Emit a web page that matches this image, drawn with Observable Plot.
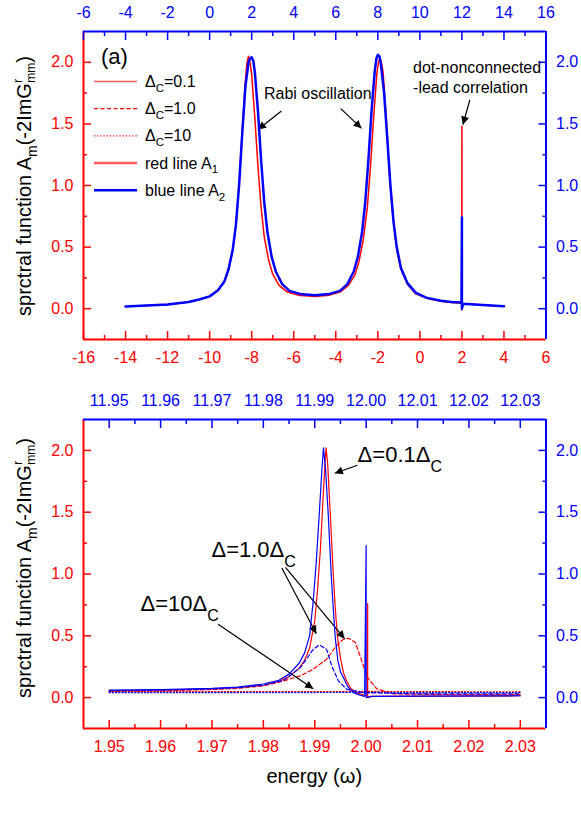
<!DOCTYPE html>
<html><head><meta charset="utf-8">
<script src="https://cdn.jsdelivr.net/npm/d3@7"></script>
<script src="https://cdn.jsdelivr.net/npm/@observablehq/plot@0.6"></script>
<style>
body{margin:0;background:#fff;}
#wrap{position:relative;width:581px;height:827px;overflow:hidden;background:#fff;}
#wrap svg{position:absolute;left:0;overflow:visible;}
</style></head><body><div id="wrap"></div><script>
// ---------------- DATA ----------------
// Panel (a): red A1 on bottom axis (ω), blue A2 on top axis
const panelA_red = [[-14,0.018],[-13,0.025],[-12,0.035],[-11,0.055],[-10.5,0.075],[-10,0.10],[-9.6,0.15],[-9.3,0.22],[-9.1,0.32],[-8.9,0.48],[-8.75,0.68],[-8.6,1.0],[-8.45,1.45],[-8.3,1.85],[-8.22,2.0],[-8.15,2.05],[-8.08,2.0],[-8.0,1.9],[-7.85,1.55],[-7.7,1.15],[-7.55,0.82],[-7.4,0.58],[-7.2,0.40],[-7.0,0.28],[-6.7,0.19],[-6.3,0.135],[-5.8,0.11],[-5.0,0.10],[-4.3,0.11],[-3.8,0.135],[-3.4,0.19],[-3.1,0.27],[-2.9,0.38],[-2.7,0.55],[-2.5,0.82],[-2.35,1.15],[-2.2,1.55],[-2.05,1.9],[-1.97,2.0],[-1.9,2.04],[-1.83,2.0],[-1.75,1.92],[-1.6,1.55],[-1.45,1.1],[-1.3,0.78],[-1.1,0.48],[-0.9,0.32],[-0.6,0.2],[-0.2,0.12],[0.4,0.08],[1.0,0.06],[1.5,0.05],[1.99,0.045],[2.0,1.48],[2.0,-0.01],[2.05,0.04],[3,0.03],[4,0.02]];
const panelA_blue = [[-4,0.018],[-3,0.025],[-2,0.035],[-1,0.055],[-0.5,0.075],[0,0.10],[0.4,0.15],[0.7,0.22],[0.9,0.32],[1.1,0.48],[1.25,0.68],[1.4,1.0],[1.55,1.42],[1.7,1.8],[1.85,2.0],[1.92,2.03],[2.0,2.04],[2.08,2.01],[2.15,1.92],[2.3,1.6],[2.45,1.2],[2.6,0.86],[2.75,0.62],[2.95,0.42],[3.15,0.30],[3.45,0.20],[3.8,0.145],[4.3,0.12],[5.0,0.11],[5.7,0.12],[6.2,0.145],[6.55,0.20],[6.85,0.30],[7.05,0.42],[7.25,0.62],[7.4,0.86],[7.55,1.2],[7.7,1.6],[7.85,1.92],[7.93,2.03],[8.0,2.06],[8.08,2.05],[8.15,1.98],[8.3,1.75],[8.45,1.38],[8.6,1.0],[8.75,0.70],[8.9,0.50],[9.1,0.33],[9.4,0.21],[9.8,0.13],[10.3,0.09],[11,0.065],[11.5,0.055],[11.98,0.05],[12.0,0.74],[12.0,0.0],[12.05,0.04],[13,0.03],[14,0.02]];

// Panel (b): red on bottom axis (ω), blue on top axis
const panelB_red_01 = [[1.950,0.055],[1.960,0.06],[1.970,0.07],[1.975,0.08],[1.980,0.10],[1.983,0.13],[1.985,0.17],[1.987,0.24],[1.988,0.30],[1.989,0.40],[1.990,0.62],[1.9905,0.85],[1.9911,1.2],[1.9916,1.6],[1.9920,1.9],[1.9922,2.02],[1.9925,1.9],[1.9930,1.5],[1.9936,1.0],[1.9940,0.72],[1.9944,0.50],[1.9950,0.32],[1.9956,0.20],[1.9962,0.135],[1.9970,0.075],[1.998,0.04],[2.0002,0.015],[2.0003,0.76],[2.0003,0.0],[2.001,0.01],[2.03,0.015]];
const panelB_red_10 = [[1.95,0.05],[1.96,0.055],[1.97,0.065],[1.975,0.075],[1.98,0.095],[1.9833,0.127],[1.9872,0.176],[1.9897,0.23],[1.9923,0.31],[1.9942,0.42],[1.9955,0.47],[1.9966,0.48],[1.9979,0.445],[1.9988,0.34],[1.9996,0.24],[2.0003,0.16],[2.0021,0.07],[2.0053,0.03],[2.015,0.025],[2.03,0.025]];
const panelB_red_100 = [[1.95,0.048],[1.97,0.048],[1.99,0.049],[2.0,0.05],[2.01,0.048],[2.03,0.047]];
const panelB_blue_01 = [[11.950,0.06],[11.960,0.065],[11.970,0.075],[11.975,0.085],[11.980,0.11],[11.983,0.14],[11.985,0.19],[11.987,0.28],[11.988,0.36],[11.989,0.50],[11.9897,0.78],[11.9903,1.1],[11.9909,1.5],[11.9914,1.85],[11.9917,2.02],[11.9921,1.85],[11.9926,1.5],[11.9932,1.0],[11.9936,0.72],[11.9940,0.48],[11.9945,0.30],[11.9950,0.21],[11.9956,0.16],[11.9964,0.09],[11.9975,0.04],[11.9988,0.02],[11.9997,0.01],[12.0,1.23],[12.0,0.0],[12.001,0.01],[12.01,0.012],[12.03,0.015]];
const panelB_blue_10 = [[11.95,0.055],[11.96,0.06],[11.97,0.07],[11.975,0.08],[11.98,0.10],[11.984,0.14],[11.9872,0.243],[11.9897,0.39],[11.9909,0.427],[11.9923,0.39],[11.9933,0.257],[11.9946,0.135],[11.9962,0.068],[11.9995,0.04],[12.01,0.03],[12.03,0.03]];
const panelB_blue_100 = [[11.95,0.04],[11.97,0.04],[11.99,0.041],[12.0,0.042],[12.01,0.04],[12.03,0.04]];

// Ticks
const aBottomTicks = [-16,-14,-12,-10,-8,-6,-4,-2,0,2,4,6];
const aTopTicks = [-6,-4,-2,0,2,4,6,8,10,12,14,16];
const bBottomTicks = [1.95,1.96,1.97,1.98,1.99,2.00,2.01,2.02,2.03];
const bTopTicks = [11.95,11.96,11.97,11.98,11.99,12.00,12.01,12.02,12.03];
const yTicks = [0,0.5,1.0,1.5,2.0];

// Annotations (data coordinates of the red/bottom-left scales)
const arrowsA = [{x1:-6.56,y1:1.60,x2:-7.68,y2:1.45},{x1:-3.74,y1:1.62,x2:-2.75,y2:1.46},{x1:2.40,y1:1.69,x2:2.07,y2:1.49}];
const arrowsB = [{x1:1.9984,y1:1.876,x2:1.9940,y2:1.811},{x1:1.9837,y1:1.045,x2:1.9904,y2:0.513},{x1:1.9844,y1:1.050,x2:1.9959,y2:0.473},{x1:1.9713,y1:0.589,x2:1.9898,y2:0.068}];

// ---------------- DRAW ----------------
const FONT = "Arial, 'Liberation Sans', Helvetica, sans-serif";
const RED = "#ff0000", BLUE = "#0000ff";
const wrap = d3.select("#wrap");
const minorOf = (ticks, n) => { const s = (ticks[1]-ticks[0])/n; const out=[]; for (let i=0;i<ticks.length-1;i++) for (let k=1;k<n;k++) out.push(+(ticks[i]+k*s).toFixed(6)); return out; };
const yMinor = [0.25,0.75,1.25,1.75];

function makePlot({height, mt, mb, xDomain, xTicks, xFmt, xAnchor, yAnchor, color, xPad, lines}) {
  const yEdge = xAnchor === "bottom" ? -0.25 : 2.25;
  const xEdge = yAnchor === "left" ? xDomain[0] : xDomain[1];
  return Plot.plot({
    width: 581, height, marginLeft: 83, marginRight: 35.5, marginTop: mt, marginBottom: mb,
    x: {domain: xDomain, axis: null}, y: {domain: [-0.25, 2.25], axis: null},
    style: {background: "transparent", color, fontFamily: FONT, fontSize: "16px", overflow: "visible"},
    marks: [
      ...lines,
      Plot.ruleX([xEdge], {stroke: color, strokeWidth: 2}),
      Plot.ruleY([yEdge], {stroke: color, strokeWidth: 2}),
      Plot.axisX(xTicks, {anchor: xAnchor, tickSize: -8, tickFormat: () => "", strokeWidth: 1.5, label: null}),
      Plot.axisX(minorOf(xTicks, 2), {anchor: xAnchor, tickSize: -4, tickFormat: () => "", strokeWidth: 1.5, label: null}),
      Plot.axisX(xTicks, {anchor: xAnchor, tickSize: 0, tickPadding: xPad, tickFormat: xFmt, fontSize: 16, label: null}),
      Plot.axisY(yTicks, {anchor: yAnchor, tickSize: -8, tickFormat: () => "", strokeWidth: 1.5, label: null}),
      Plot.axisY(yMinor, {anchor: yAnchor, tickSize: -4, tickFormat: () => "", strokeWidth: 1.5, label: null}),
      Plot.axisY(yTicks, {anchor: yAnchor, tickSize: 0, tickPadding: 10, tickFormat: d3.format(".1f"), fontSize: 16, label: null})
    ]
  });
}
const L = (data, o) => Plot.line(data, {x: d => d[0], y: d => d[1], ...o});

function rich(text, parts, size) {
  let cur = 0;
  for (const p of parts) {
    let target = 0, s = size, txt = p, dx = 0;
    if (typeof p !== "string") {
      if (p.sub !== undefined) { target = p.shift ?? size*0.3; s = p.size ?? size*0.72; txt = p.sub; }
      else { target = p.shift ?? -size*0.42; s = p.size ?? size*0.72; txt = p.sup; }
      dx = p.dx || 0;
    }
    text.append("tspan").attr("dy", target - cur).attr("dx", dx).attr("font-size", s).text(txt);
    cur = target;
  }
  return text;
}
function addText(svg, x, y, parts, size, anchor="start", rotate=false) {
  const t = d3.select(svg).append("text").attr("font-family", FONT).attr("font-size", size).attr("fill", "#000").attr("text-anchor", anchor);
  if (rotate) t.attr("transform", `translate(${x},${y}) rotate(-90)`); else t.attr("x", x).attr("y", y);
  return rich(t, parts, size);
}
// filled-head arrows drawn through the plot's own scales
function addArrows(svg, arrows, id) {
  const sx = v => svg.scale("x").apply(v), sy = v => svg.scale("y").apply(v);
  const s = d3.select(svg);
  s.append("defs").append("marker").attr("id", id).attr("viewBox", "0 0 10 10").attr("refX", 10).attr("refY", 5)
    .attr("markerUnits", "userSpaceOnUse").attr("markerWidth", 11).attr("markerHeight", 8).attr("orient", "auto")
    .append("path").attr("d", "M0,0L10,5L0,10z").attr("fill", "#000");
  for (const a of arrows) {
    s.append("line").attr("x1", sx(a.x1)).attr("y1", sy(a.y1)).attr("x2", sx(a.x2)).attr("y2", sy(a.y2))
      .attr("stroke", "#000").attr("stroke-width", 1.2).attr("marker-end", `url(#${id})`);
  }
}
const yTitle = ["sprctral function A", {sub: "m", size: 14}, "(-2ImG", {sup: "r", size: 13, shift: -9}, {sub: "mm", size: 12, dx: -4, shift: 4}, ")"];

// ---- Panel (a) ----
const topA = 0, hA = 390;
const aRed = makePlot({height: hA, mt: 31, mb: hA - 339, xDomain: [-16, 6], xTicks: aBottomTicks, xFmt: d => String(d), xAnchor: "bottom", yAnchor: "left", color: RED, xPad: 12.5,
  lines: [L(panelA_red, {stroke: RED, strokeWidth: 1.5})]});
const aBlue = makePlot({height: hA, mt: 31, mb: hA - 339, xDomain: [-6, 16], xTicks: aTopTicks, xFmt: d => String(d), xAnchor: "top", yAnchor: "right", color: BLUE, xPad: 13.5,
  lines: [L(panelA_blue, {stroke: BLUE, strokeWidth: 2.5})]});
for (const p of [aRed, aBlue]) { d3.select(p).style("top", topA + "px"); wrap.node().appendChild(p); }

addArrows(aRed, arrowsA, "headA");
addText(aRed, 101, 64, ["(a)"], 22);
const legend = [
  {parts: ["Δ", {sub: "C"}, "=0.1"], stroke: "#ff5a5a", w: 1.5, dash: null},
  {parts: ["Δ", {sub: "C"}, "=1.0"], stroke: RED, w: 1.2, dash: "4,2.5"},
  {parts: ["Δ", {sub: "C"}, "=10"], stroke: RED, w: 1.2, dash: "1.2,2"},
  {parts: ["red line A", {sub: "1"}], stroke: "#ff5a5a", w: 2.5, dash: null},
  {parts: ["blue line A", {sub: "2"}], stroke: BLUE, w: 2.5, dash: null}
];
legend.forEach((e, i) => {
  const y = 81.5 + i * 27.2;
  d3.select(aRed).append("line").attr("x1", 94).attr("x2", 137).attr("y1", y).attr("y2", y)
    .attr("stroke", e.stroke).attr("stroke-width", e.w).attr("stroke-dasharray", e.dash);
  addText(aRed, 145, y + 5.5, e.parts, 16);
});
{
  const sx = v => aRed.scale("x").apply(v), sy = v => aRed.scale("y").apply(v);
  addText(aRed, sx(-7.39), sy(1.70), ["Rabi oscillation"], 16);
  addText(aRed, sx(-0.30), sy(1.908), ["dot-nonconnected"], 16);
  addText(aRed, sx(-0.30), sy(1.749), ["-lead correlation"], 16);
}
addText(aRed, 31, 186, yTitle, 20, "middle", true);

// ---- Panel (b) ----
const topB = 390, hB = 437;
const bRed = makePlot({height: hB, mt: 29, mb: hB - 338, xDomain: [1.945, 2.035], xTicks: bBottomTicks, xFmt: d3.format(".2f"), xAnchor: "bottom", yAnchor: "left", color: RED, xPad: 12.5,
  lines: [L(panelB_red_100, {stroke: RED, strokeWidth: 1.2, strokeDasharray: "1.2,2"}),
          L(panelB_red_10, {stroke: RED, strokeWidth: 1.2, strokeDasharray: "4,2.5"}),
          L(panelB_red_01, {stroke: RED, strokeWidth: 1.2})]});
const bBlue = makePlot({height: hB, mt: 29, mb: hB - 338, xDomain: [11.945, 12.035], xTicks: bTopTicks, xFmt: d3.format(".2f"), xAnchor: "top", yAnchor: "right", color: BLUE, xPad: 14,
  lines: [L(panelB_blue_100, {stroke: BLUE, strokeWidth: 1.2, strokeDasharray: "1.2,2"}),
          L(panelB_blue_10, {stroke: BLUE, strokeWidth: 1.2, strokeDasharray: "4,2.5"}),
          L(panelB_blue_01, {stroke: BLUE, strokeWidth: 1.2})]});
for (const p of [bRed, bBlue]) { d3.select(p).style("top", topB + "px"); wrap.node().appendChild(p); }
addArrows(bRed, arrowsB, "headB");
{
  const sx = v => bRed.scale("x").apply(v), sy = v => bRed.scale("y").apply(v);
  addText(bRed, sx(1.99844), sy(1.90), ["Δ=0.1Δ", {sub: "C", size: 16, shift: 10}], 22);
  addText(bRed, sx(1.970), sy(1.131), ["Δ=1.0Δ", {sub: "C", size: 16, shift: 10}], 22);
  addText(bRed, sx(1.9562), sy(0.694), ["Δ=10Δ", {sub: "C", size: 16, shift: 10}], 22);
  addText(bRed, sx(1.99), 393, ["energy (", "ω", ")"], 20, "middle");
}
addText(bRed, 31, 178, yTitle, 20, "middle", true);
</script></body></html>
